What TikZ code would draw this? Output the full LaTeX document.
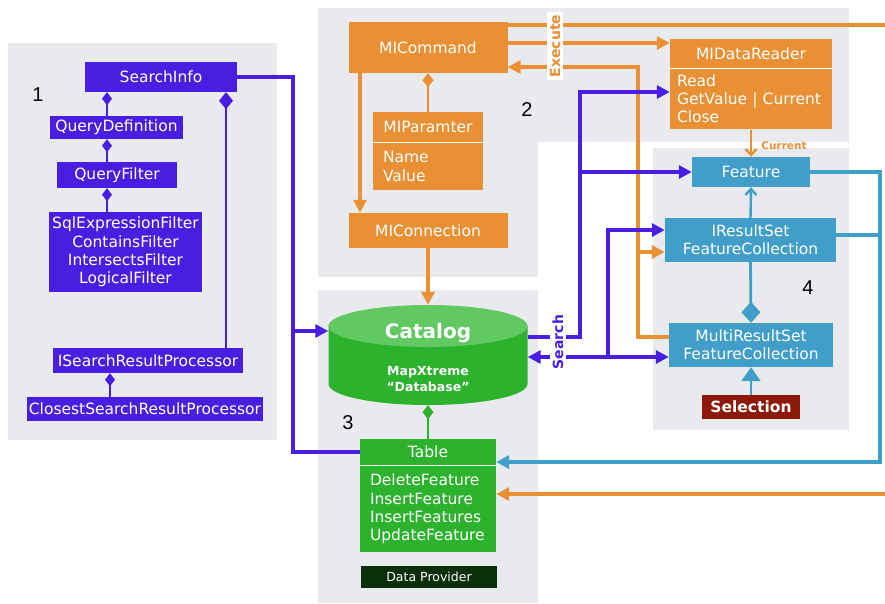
\documentclass[tikz,border=0pt]{standalone}
\usepackage{fontspec}
\setmainfont{DejaVu Sans}
\newfontfamily\numfont{Liberation Sans}
\usepackage{tikz}
\usetikzlibrary{positioning,arrows.meta}

\definecolor{umlviolet}{RGB}{74,30,224}
\definecolor{umlorange}{RGB}{234,144,52}
\definecolor{umlsky}{RGB}{64,158,200}
\definecolor{umlgreen}{RGB}{44,178,44}
\definecolor{umlgreentop}{RGB}{98,200,98}
\definecolor{umldkgreen}{RGB}{10,48,10}
\definecolor{umlred}{RGB}{140,26,8}
\definecolor{panelgray}{RGB}{233,234,237}

\newcommand{\boxfont}{\fontsize{15.5}{18.3}\selectfont}

\begin{document}
\begin{tikzpicture}[
    x=1pt, y=-1pt,
    cls/.style={rectangle, inner sep=0pt, text=white, font=\boxfont},
    vcls/.style={cls, fill=umlviolet},
    ocls/.style={cls, fill=umlorange},
    bcls/.style={cls, fill=umlsky},
    gcls/.style={cls, fill=umlgreen},
    membody/.style={inner xsep=8pt, align=left},
    panel/.style={fill=panelgray},
    num/.style={font=\numfont\fontsize{20}{20}\selectfont},
    lbl/.style={fill=white, inner sep=2.5pt, font=\bfseries\fontsize{14}{14}\selectfont},
    vline/.style={draw=umlviolet, line width=3.6pt},
    varrow/.style={vline, -{Triangle[length=13pt,width=13pt]}},
    vcomp/.style={draw=umlviolet, line width=2.4pt, {Diamond[length=13pt,width=10pt]}-},
    oline/.style={draw=umlorange, line width=4pt},
    oarrow/.style={oline, -{Triangle[length=13pt,width=13pt]}},
    ocomp/.style={draw=umlorange, line width=2.8pt, {Diamond[length=14pt,width=11pt]}-},
    othin/.style={draw=umlorange, line width=2.4pt, -{Straight Barb[length=6pt,width=11pt]}},
    bline/.style={draw=umlsky, line width=3.2pt},
    barrow/.style={bline, -{Triangle[length=13pt,width=13pt]}},
    bthin/.style={draw=umlsky, line width=2.4pt, -{Straight Barb[length=6pt,width=11pt]}},
    bcomp/.style={draw=umlsky, line width=2.8pt, {Diamond[length=21pt,width=19pt]}-},
    gcomp/.style={draw=umlgreen, line width=2.4pt, {Diamond[length=14pt,width=11pt]}-}
]
\useasboundingbox (0,0) rectangle (885,603);

% Panels
\fill[panel] (8,43) rectangle (277,440);
\fill[panel] (318,8) rectangle (538,277);
\fill[panel] (318,8) rectangle (849,142);
\fill[panel] (318,290) rectangle (538,603);
\fill[panel] (653,148) rectangle (849,430);

\node[num] (n1) at (38,95) {1};
\node[num] (n2) at (527,110) {2};
\node[num] (n3) at (348,423) {3};
\node[num] (n4) at (808,288) {4};

% 1: search classes
\node[vcls, minimum width=152, minimum height=30] (info) at (161,77) {SearchInfo};
\node[vcls, minimum width=133, minimum height=23] (qdef) at (116.5,127.5) {QueryDefinition};
\node[vcls, minimum width=120, minimum height=26] (qfilt) at (117,175) {QueryFilter};
\node[vcls, minimum width=153, minimum height=80, align=center] (filters) at (125.5,252)
    {SqlExpressionFilter\\ContainsFilter\\IntersectsFilter\\LogicalFilter};
\node[vcls, minimum width=190, minimum height=25] (isrp) at (148,360.5) {ISearchResultProcessor};
\node[vcls, minimum width=236, minimum height=24] (csrp) at (145,409) {ClosestSearchResultProcessor};

% 2: command classes
\node[ocls, minimum width=159, minimum height=51] (cmd) at (428,47.5) {MICommand};
\node[ocls, minimum width=110, minimum height=30] (parhead) at (428,127) {MIParamter};
\node[ocls, membody, inner xsep=10pt, text width=90pt, minimum height=48, below=0pt of parhead] (parbody) {Name\\Value};
\node[ocls, minimum width=159, minimum height=35] (conn) at (428,230.5) {MIConnection};
\node[ocls, minimum width=162, minimum height=29] (rdhead) at (751,53.5) {MIDataReader};
\node[ocls, membody, inner xsep=7pt, text width=148pt, minimum height=61, below=0pt of rdhead] (rdbody)
    {Read\\GetValue | Current\\Close};
\draw[white, line width=1pt] (parhead.south west) -- (parhead.south east);
\draw[white, line width=1pt] (rdhead.south west) -- (rdhead.south east);

% 3: catalog
\node[minimum width=199, minimum height=100, inner sep=0pt] (cat) at (428,355) {};
\fill[umlgreen] (328.5,326) -- (328.5,384)
    arc[start angle=180, end angle=360, x radius=99.5pt, y radius=21pt] -- (527.5,326) -- cycle;
\fill[umlgreentop] (428,326) ellipse[x radius=99.5pt, y radius=21pt];
\node[text=white, font=\bfseries\fontsize{20}{20}\selectfont] (catname) at (428,333) {Catalog};
\node[text=white, font=\bfseries\fontsize{12.5}{16}\selectfont, align=center] (catsub) at (428,379)
    {MapXtreme\\“Database”};
\node[gcls, minimum width=136, minimum height=26] (tblhead) at (428,452) {Table};
\node[gcls, membody, inner xsep=10pt, text width=116pt, minimum height=87, below=0pt of tblhead] (tblbody)
    {DeleteFeature\\InsertFeature\\InsertFeatures\\UpdateFeature};
\draw[white, line width=1pt] (tblhead.south west) -- (tblhead.south east);
\node[cls, fill=umldkgreen, font=\fontsize{12.5}{15}\selectfont, minimum width=136, minimum height=22] (dp) at (429,577) {Data Provider};

% 4: feature classes
\node[bcls, minimum width=118, minimum height=30] (feat) at (751,172) {Feature};
\node[bcls, minimum width=171, minimum height=44, align=center] (irs) at (750.5,240) {IResultSet\\FeatureCollection};
\node[bcls, minimum width=164, minimum height=44, align=center] (mrs) at (751,345) {MultiResultSet\\FeatureCollection};
\node[cls, fill=umlred, font=\bfseries\fontsize{15.5}{18}\selectfont, minimum width=98, minimum height=24] (sel) at (751,407) {Selection};

% Composition in 1
\coordinate (lx) at (107,0);
\coordinate (rx) at (226,0);
\coordinate (px) at (110,0);
\draw[vcomp] (info.south -| lx) -- (qdef.north -| lx);
\draw[vcomp] (qdef.south -| lx) -- (qfilt.north -| lx);
\draw[vcomp] (qfilt.south -| lx) -- (filters.north -| lx);
\draw[vcomp, line width=2.8pt, {Diamond[length=17pt,width=14pt]}-] (info.south -| rx) -- (isrp.north -| rx);
\draw[vcomp] (isrp.south -| px) -- (csrp.north -| px);

% Orange links
\coordinate (ox) at (360,0);
\draw[oarrow] (cmd.south -| ox) -- (conn.north -| ox);
\draw[oarrow] (conn.south) -- (cat.north);
\draw[ocomp] (cmd.south) -- (parhead.north);
\coordinate (oa) at (905,25);
\coordinate (ob) at (905,494);
\draw[oarrow] (oa -| cmd.east) -- (oa) -- (ob) -- (ob -| tblbody.east);
\coordinate (oc) at (600,43);
\draw[oarrow] (oc -| cmd.east) -- (oc -| rdhead.west);
\coordinate (od) at (638,337);
\coordinate (oe) at (638,67);
\draw[oarrow] (od -| mrs.west) -- (od) -- (oe) -- (oe -| cmd.east);
\coordinate (of) at (638,252);
\draw[oarrow] (of) -- (of -| irs.west);
\draw[othin] (rdbody.south) -- (feat.north);

% Light blue links
\coordinate (ba) at (880,172);
\coordinate (bb) at (880,462);
\coordinate (bc) at (880,235);
\draw[barrow] (feat.east) -- (ba) -- (bb) -- (bb -| tblbody.east);
\draw[bline] (bc -| irs.east) -- (bc);
\draw[bthin] (irs.north) -- (feat.south);
\draw[bcomp] (mrs.north) -- (irs.south);
\draw[draw=umlsky, line width=2.4pt, -{Triangle[length=14pt,width=19pt]}] (sel.north) -- (mrs.south);
\draw[gcomp] (cat.south) -- (tblhead.north);

% Violet links
\coordinate (vx) at (293,331);
\draw[vline] (info.east) -- (info.east -| vx) -- (tblhead.west -| vx) -- (tblhead.west);
\draw[varrow] (vx) -- (vx -| cat.west);
\coordinate (sa) at (580,337);
\coordinate (sc) at (580,92);
\draw[varrow] (sa -| cat.east) -- (sa) -- (sc) -- (sc -| rdbody.west);
\draw[varrow] (sa |- feat.west) -- (feat.west);
\coordinate (sb) at (608,357);
\coordinate (sd) at (608,230);
\draw[vline, {Triangle[length=13pt,width=13pt]}-{Triangle[length=13pt,width=13pt]}] (sb -| cat.east) -- (sb -| mrs.west);
\draw[varrow] (sb) -- (sd) -- (sd -| irs.west);

% Labels on links
\node[lbl, rotate=90, text=umlorange] (exec) at (555,46) {Execute};
\node[lbl, rotate=90, text=umlviolet] (srch) at (558,342) {Search};
\node[text=umlorange, font=\bfseries\fontsize{10.5}{12}\selectfont] (curr) at (784,146) {Current};
\end{tikzpicture}
\end{document}
